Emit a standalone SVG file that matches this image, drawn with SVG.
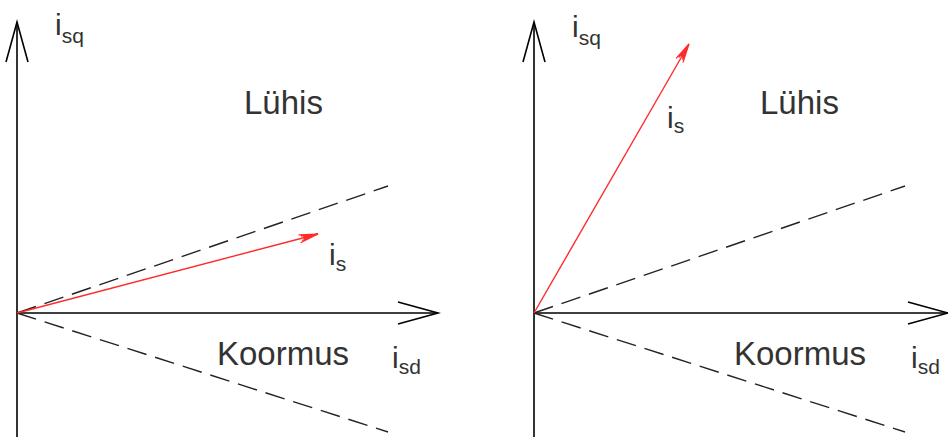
<svg xmlns="http://www.w3.org/2000/svg" width="948" height="437" viewBox="0 0 948 437">
<defs>
<style>
.axis{stroke:#000;stroke-width:1.6;fill:none}
.dash{stroke:#222;stroke-width:1.4;fill:none;stroke-dasharray:20 9}
.vec{stroke:#ff2a2a;stroke-width:1.4;fill:none}
.t{font-family:"Liberation Sans",Arial,sans-serif;fill:#333}
.big{font-size:33px}
.lab{font-size:30px}
.sub{font-size:21px}
</style>
<marker id="ax" markerUnits="userSpaceOnUse" viewBox="-42 -13 44 26" markerWidth="44" markerHeight="26" refX="0" refY="0" orient="auto" overflow="visible">
<path d="M-40,-11 L0,0 L-40,11" fill="none" stroke="#000" stroke-width="1.6"/>
</marker>
<marker id="rv" markerUnits="userSpaceOnUse" viewBox="-22 -6 24 12" markerWidth="24" markerHeight="12" refX="0" refY="0" orient="auto" overflow="visible">
<path d="M-19,-4 L0,0 L-19,4 M-17,-2.2 L0,0 L-17,2.2 M-15,-0.8 L0,0 L-15,0.8" fill="none" stroke="#ff2a2a" stroke-width="1.2"/>
</marker>
</defs>
<rect width="948" height="437" fill="#fff"/>
<g id="connectors">
<line class="axis" x1="17" y1="437" x2="17" y2="22" marker-end="url(#ax)"/>
<line class="axis" x1="17" y1="313" x2="438" y2="313" marker-end="url(#ax)"/>
<line class="dash" x1="17" y1="313" x2="388" y2="186"/>
<line class="dash" x1="17" y1="313" x2="388" y2="432"/>
<line class="vec" x1="17" y1="313" x2="318" y2="234" marker-end="url(#rv)"/>
<line class="axis" x1="534" y1="437" x2="534" y2="22" marker-end="url(#ax)"/>
<line class="axis" x1="534" y1="313" x2="948" y2="313" marker-end="url(#ax)"/>
<line class="dash" x1="534" y1="313" x2="905" y2="186"/>
<line class="dash" x1="534" y1="313" x2="905" y2="432"/>
<line class="vec" x1="534" y1="313" x2="689" y2="44" marker-end="url(#rv)"/>
</g>
<g id="left-isq"><text class="t lab" x="55" y="35">i<tspan class="sub" dy="8">sq</tspan></text></g>
<g id="left-luhis"><text class="t big" x="244" y="114">Lühis</text></g>
<g id="left-is"><text class="t lab" x="329" y="265">i<tspan class="sub" dy="6">s</tspan></text></g>
<g id="left-koormus"><text class="t big" x="217" y="365">Koormus</text></g>
<g id="left-isd"><text class="t lab" x="392" y="368">i<tspan class="sub" dy="6">sd</tspan></text></g>
<g id="right-isq"><text class="t lab" x="572" y="37">i<tspan class="sub" dy="8">sq</tspan></text></g>
<g id="right-luhis"><text class="t big" x="760" y="114">Lühis</text></g>
<g id="right-is"><text class="t lab" x="667" y="128">i<tspan class="sub" dy="5">s</tspan></text></g>
<g id="right-koormus"><text class="t big" x="734" y="365">Koormus</text></g>
<g id="right-isd"><text class="t lab" x="911" y="368">i<tspan class="sub" dy="6">sd</tspan></text></g>
</svg>
